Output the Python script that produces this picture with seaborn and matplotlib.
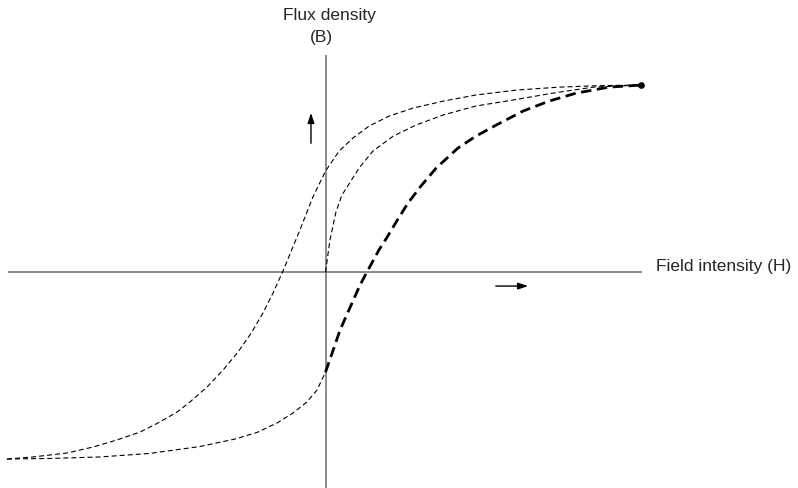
import matplotlib
matplotlib.use("Agg")
import matplotlib.pyplot as plt
import seaborn as sns
import pandas as pd

# B-H hysteresis loop, values normalised to saturation (H, B in [-1, 1])
upper_H = [-1.008, -0.926, -0.818, -0.736, -0.660, -0.587, -0.524, -0.470,
           -0.429, -0.375, -0.324, -0.277, -0.233, -0.198, -0.166, -0.136,
           -0.081, -0.040, 0.0, 0.043, 0.087, 0.138, 0.201, 0.277, 0.372,
           0.476, 0.603, 0.739, 0.867, 0.998]
upper_B = [-1.0, -0.989, -0.968, -0.936, -0.898, -0.856, -0.802, -0.749,
           -0.695, -0.615, -0.524, -0.428, -0.321, -0.219, -0.112, 0.0,
           0.225, 0.401, 0.540, 0.647, 0.717, 0.781, 0.834, 0.877, 0.914,
           0.947, 0.973, 0.989, 0.997, 1.0]

lower_H = [-1.008, -0.872, -0.714, -0.555, -0.397, -0.286, -0.217, -0.153,
           -0.103, -0.059, -0.027, 0.0]
lower_B = [-1.0, -0.997, -0.989, -0.970, -0.933, -0.893, -0.858, -0.807,
           -0.754, -0.695, -0.631, -0.535]

return_H = [0.0, 0.021, 0.046, 0.109, 0.131, 0.169, 0.195, 0.229, 0.261,
            0.302, 0.350, 0.419, 0.476, 0.540, 0.625, 0.707, 0.793, 0.897, 0.998]
return_B = [-0.535, -0.433, -0.310, -0.070, 0.0, 0.118, 0.187, 0.283, 0.369,
            0.460, 0.556, 0.663, 0.727, 0.786, 0.861, 0.914, 0.957, 0.989, 1.0]

initial_H = [0.0, 0.014, 0.033, 0.052, 0.078, 0.106, 0.150, 0.214, 0.286,
             0.372, 0.476, 0.593, 0.720, 0.847, 0.998]
initial_B = [0.0, 0.171, 0.321, 0.412, 0.481, 0.556, 0.647, 0.727, 0.786,
             0.840, 0.888, 0.920, 0.957, 0.989, 1.0]

sns.set_style("white")
plt.rcParams["font.family"] = ["Liberation Sans", "DejaVu Sans"]
plt.rcParams["lines.scale_dashes"] = False

fig = plt.figure(figsize=(7.98, 4.88), dpi=100)
ax = fig.add_axes([0, 0, 1, 1])
ax.set_xlim(-1.03, 1.495)
ax.set_ylim(-1.155, 1.455)
ax.axis("off")

# axes of the diagram
axis_col = "#6b6b6b"
ax.plot([-1.005, 1.002], [0, 0], color=axis_col, lw=1.1, solid_capstyle="butt")
ax.plot([0, 0], [-1.2, 1.16], color=axis_col, lw=1.1, solid_capstyle="butt")

thin = dict(color="black", lw=0.8, linestyle=(0, (3.6, 2.2)))
for h, b in [(upper_H, upper_B), (lower_H, lower_B), (initial_H, initial_B)]:
    df = pd.DataFrame({"H": h, "B": b})
    sns.lineplot(data=df, x="H", y="B", sort=False, estimator=None, ax=ax, **thin)

df_ret = pd.DataFrame({"H": return_H, "B": return_B})
sns.lineplot(data=df_ret, x="H", y="B", sort=False, estimator=None, ax=ax,
             color="black", lw=2.0, linestyle=(0, (7.5, 4.0)))

ax.plot([return_H[-1]], [return_B[-1]], "o", color="black", ms=3.8)

# direction arrows
arrow = dict(arrowstyle="-|>,head_length=0.6,head_width=0.2", color="black", lw=1.0)
ax.annotate("", xy=(-0.046, 0.866), xytext=(-0.046, 0.674), arrowprops=arrow)
ax.annotate("", xy=(0.65, -0.075), xytext=(0.53, -0.075), arrowprops=arrow)

ax.text(0.012, 1.374, "Flux density", ha="center", va="center", fontsize=12.5)
ax.text(-0.012, 1.257, "(B)", ha="center", va="center", fontsize=12.5)
ax.text(1.047, 0.032, "Field intensity (H)", ha="left", va="center", fontsize=12.5)

fig.savefig("out.png", dpi=100)
